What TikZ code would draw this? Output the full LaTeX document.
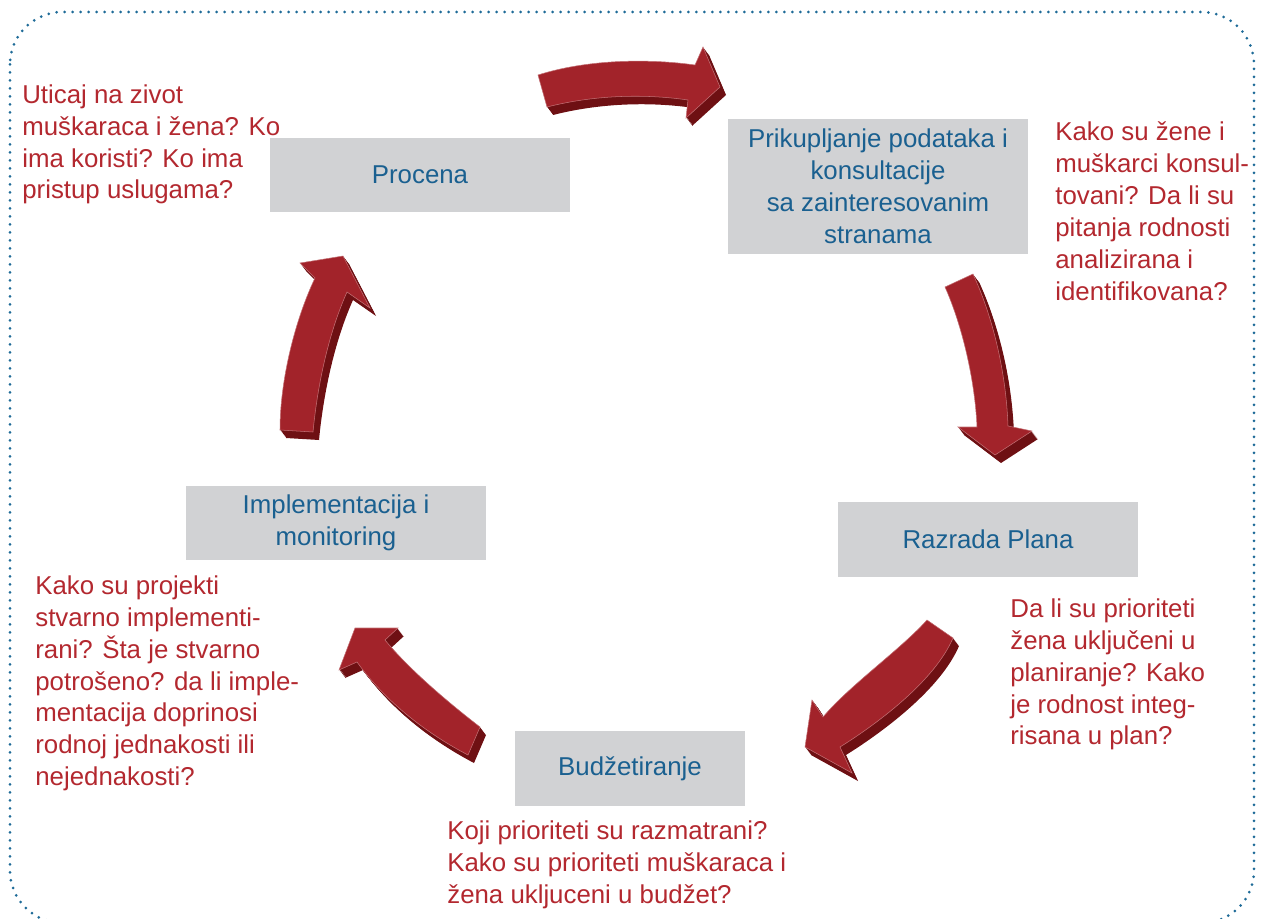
\documentclass[tikz,border=0pt]{standalone}
\usepackage{fontspec}
\setmainfont{Liberation Sans}
\usepackage{tikz}
\usetikzlibrary{positioning}

\definecolor{arrowred}{HTML}{A2232A}
\definecolor{arrowdark}{HTML}{6E1013}
\definecolor{qred}{HTML}{B3282F}
\definecolor{boxblue}{HTML}{1A6090}
\definecolor{boxgray}{HTML}{D1D2D4}
\definecolor{framedot}{HTML}{1F6B98}

% curved 3D block arrow: dark side by shifted copies, face on top
\newcommand{\blockarrow}[1]{%
  \foreach \k in {1,...,8}
    \fill[arrowdark, shift={(0.75*\k,\k)}] #1;
  \fill[arrowred, draw=arrowred!65!white, line width=0.3pt] #1;
}

\tikzset{
  stagebox/.style={fill=boxgray, text=boxblue, align=center, inner sep=0pt,
    minimum width=6cm, minimum height=1.5cm},
  question/.style={text=qred, align=left, inner sep=0pt, anchor=north west},
}

\begin{document}
\begin{tikzpicture}[x=0.02cm, y=-0.02cm]
  \useasboundingbox (0,0) rectangle (1262,919);
  \fontsize{14.7}{18.2}\selectfont

  %% dotted frame
  \draw[framedot, line width=0.06cm, dash pattern=on 0pt off 0.16cm, line cap=round,
    rounded corners=1.05cm] (10,12) rectangle (1254,923);

  %% stages
  \node[stagebox] (procena) at (420,175) {Procena};
  \node[stagebox, minimum height=2.7cm] (prikupljanje) at (878,186.5)
    {Prikupljanje podataka i\\konsultacije\\sa zainteresovanim\\stranama};
  \node[stagebox] (razrada) at (988,539.5) {Razrada Plana};
  \node[stagebox, minimum width=4.6cm] (budzet) at (630,768.5) {Budžetiranje};
  \node[stagebox, minimum height=1.48cm] (impl) at (336,523) {Implementacija i\\monitoring};

  %% questions
  \node[question] (qprocena) at (22,84)
    {Uticaj na zivot\\muškaraca i žena? Ko\\ima koristi? Ko ima\\pristup uslugama?};
  \node[question] (qprikupljanje) at (1055,121)
    {Kako su žene i\\muškarci konsul-\\tovani? Da li su\\pitanja rodnosti\\analizirana i\\identifikovana?};
  \node[question] (qrazrada) at (1010,598)
    {Da li su prioriteti\\žena uključeni u\\planiranje? Kako\\je rodnost integ-\\risana u plan?};
  \node[question] (qbudzet) at (447,820)
    {Koji prioriteti su razmatrani?\\Kako su prioriteti muškaraca i\\žena ukljuceni u budžet?};
  \node[question] (qimpl) at (35,575)
    {Kako su projekti\\stvarno implementi-\\rani? Šta je stvarno\\potrošeno? da li imple-\\mentacija doprinosi\\rodnoj jednakosti ili\\nejednakosti?};

  %% arrows
  \blockarrow{(538,75) .. controls (585,60) and (645,58) .. (695,65) -- (703,47) -- (720,87)
    -- (686,118) -- (688,100) .. controls (640,93) and (590,96) .. (547,107) -- cycle} %% procena->prikupljanje
  \blockarrow{(945,287) -- (973,274) .. controls (992,315) and (1006,370) .. (1008,426)
    -- (1032,431) -- (995,455) -- (958,427) -- (977,427)
    .. controls (975,380) and (962,325) .. (945,287) -- cycle} %% prikupljanje->razrada
  \blockarrow{(927,620) .. controls (900,650) and (850,685) .. (823,717) -- (812,700)
    -- (805,747) -- (852,773) -- (840,747) .. controls (880,722) and (935,680) .. (953,638)
    -- cycle} %% razrada->budzet
  \blockarrow{(339,670) -- (355,628) -- (398,628) -- (385,640)
    .. controls (408,668) and (445,700) .. (480,727) -- (468,755)
    .. controls (430,735) and (388,705) .. (357,662) -- cycle} %% budzet->impl
  \blockarrow{(280,430) -- (313,432) .. controls (318,380) and (330,330) .. (347,292)
    -- (370,308) -- (343,256) -- (300,263) -- (315,278)
    .. controls (295,320) and (280,380) .. (280,430) -- cycle} %% impl->procena
\end{tikzpicture}
\end{document}
